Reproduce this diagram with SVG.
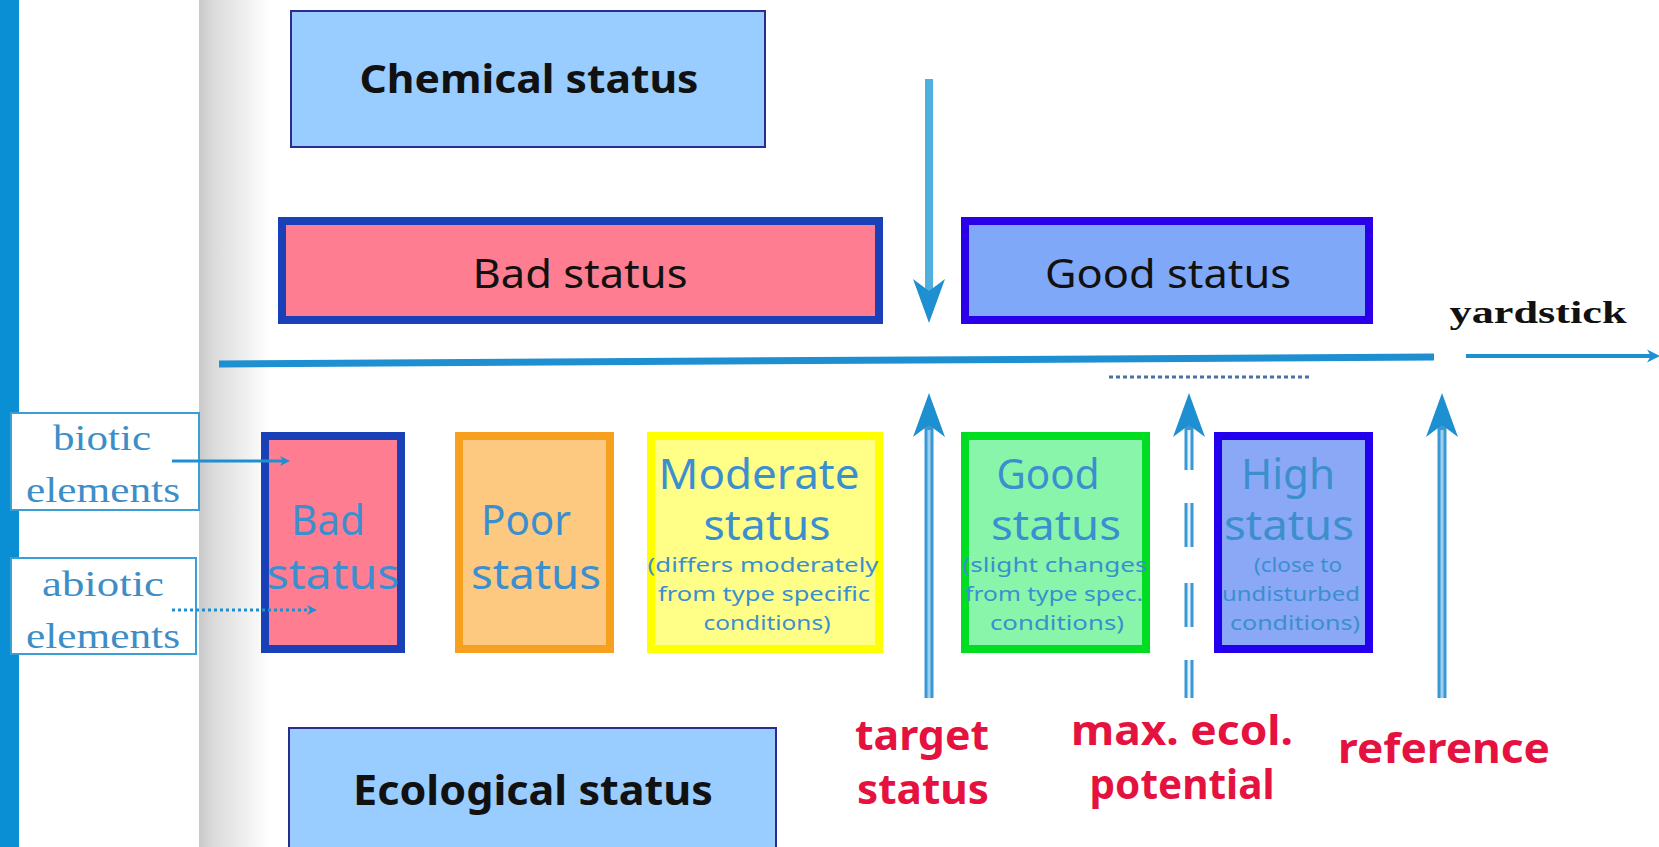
<svg xmlns="http://www.w3.org/2000/svg" xmlns:xlink="http://www.w3.org/1999/xlink" width="1659" height="847" viewBox="0 0 1659 847">
  <defs>
    <linearGradient id="shade" x1="0" y1="0" x2="1" y2="0">
      <stop offset="0" stop-color="#c9c9c9"/>
      <stop offset="0.2" stop-color="#dadada"/>
      <stop offset="1" stop-color="#ffffff"/>
    </linearGradient>
    <path id="headUp" d="M0,0 L16,44 L0,32 L-16,44 Z" fill="#1e8fd0"/>
    <path id="headSmall" d="M0,0 L-10,-5 L-7,0 L-10,5 Z" fill="#1e8fd0"/>
    <style>
      .big { font-family: "Comic Sans MS", "Noto Sans", sans-serif; fill: #111; text-anchor: middle; }
      .lbl { font-family: "Comic Sans MS", "Noto Sans", sans-serif; fill: #3b8fcf; text-anchor: middle; font-size: 41px; }
      .sml { font-family: "Comic Sans MS", "Noto Sans", sans-serif; fill: #3b8fcf; text-anchor: middle; font-size: 20px; }
      .red { font-family: "Comic Sans MS", "Noto Sans", sans-serif; fill: #e5123f; text-anchor: middle; font-size: 42px; font-weight: bold; }
      .ser { font-family: "Liberation Serif", serif; fill: #3d8ec6; text-anchor: middle; font-size: 36px; }
      .elem { fill: #ffffff; stroke: #3a9fd4; stroke-width: 2; }
      .blue { fill: #99ccff; stroke: #2b2b90; stroke-width: 2; }
    </style>
  </defs>

  <!-- background -->
  <rect x="0" y="0" width="1659" height="847" fill="#ffffff"/>
  <rect x="0" y="0" width="19" height="847" fill="#0a8fd5"/>
  <rect x="199" y="0" width="70" height="847" fill="url(#shade)"/>

  <g id="chemical-status">
    <rect class="blue" x="291" y="11" width="474" height="136"/>
    <text class="big" x="529" y="93" font-size="40" font-weight="bold" textLength="339" lengthAdjust="spacingAndGlyphs">Chemical status</text>
  </g>

  <g id="bad-status-top">
    <rect x="282" y="221" width="597" height="99" fill="#ff7d90" stroke="#1a40b8" stroke-width="8"/>
    <text class="big" x="580" y="288" font-size="40" textLength="215" lengthAdjust="spacingAndGlyphs">Bad status</text>
  </g>

  <g id="good-status-top">
    <rect x="965" y="221" width="404" height="99" fill="#80a8f8" stroke="#2a00e8" stroke-width="8"/>
    <text class="big" x="1168" y="288" font-size="40" textLength="246" lengthAdjust="spacingAndGlyphs">Good status</text>
  </g>

  <g id="yardstick-label">
    <text x="1538" y="323" font-family="Liberation Serif, serif" font-weight="bold" font-size="32" fill="#111" text-anchor="middle" textLength="177" lengthAdjust="spacingAndGlyphs">yardstick</text>
  </g>

  <g id="biotic-elements">
    <rect class="elem" x="11" y="413" width="188" height="97"/>
    <text class="ser" x="102" y="450" textLength="98" lengthAdjust="spacingAndGlyphs">biotic</text>
    <text class="ser" x="103" y="502" textLength="154" lengthAdjust="spacingAndGlyphs">elements</text>
  </g>

  <g id="abiotic-elements">
    <rect class="elem" x="11" y="558" width="185" height="96"/>
    <text class="ser" x="103" y="596" textLength="122" lengthAdjust="spacingAndGlyphs">abiotic</text>
    <text class="ser" x="103" y="648" textLength="154" lengthAdjust="spacingAndGlyphs">elements</text>
  </g>

  <g id="bad-status">
    <rect x="265" y="436" width="136" height="213" fill="#ff7d90" stroke="#1a40b8" stroke-width="8"/>
    <text class="lbl" x="328" y="535" textLength="74" lengthAdjust="spacingAndGlyphs">Bad</text>
    <text class="lbl" x="333" y="589" textLength="133" lengthAdjust="spacingAndGlyphs">status</text>
  </g>

  <g id="poor-status">
    <rect x="459" y="436" width="151" height="213" fill="#fdc880" stroke="#f7a020" stroke-width="8"/>
    <text class="lbl" x="526" y="535" textLength="90" lengthAdjust="spacingAndGlyphs">Poor</text>
    <text class="lbl" x="536" y="589" textLength="130" lengthAdjust="spacingAndGlyphs">status</text>
  </g>

  <g id="moderate-status">
    <rect x="651" y="436" width="228" height="213" fill="#ffff88" stroke="#ffff00" stroke-width="8"/>
    <text class="lbl" x="759" y="489" textLength="201" lengthAdjust="spacingAndGlyphs">Moderate</text>
    <text class="lbl" x="767" y="540" textLength="127" lengthAdjust="spacingAndGlyphs">status</text>
    <text class="sml" x="763" y="572" textLength="231" lengthAdjust="spacingAndGlyphs">(differs moderately</text>
    <text class="sml" x="764" y="601" textLength="212" lengthAdjust="spacingAndGlyphs">from type specific</text>
    <text class="sml" x="767" y="630" textLength="127" lengthAdjust="spacingAndGlyphs">conditions)</text>
  </g>

  <g id="good-status">
    <rect x="965" y="436" width="181" height="213" fill="#88f5aa" stroke="#00dd22" stroke-width="8"/>
    <text class="lbl" x="1048" y="489" textLength="103" lengthAdjust="spacingAndGlyphs">Good</text>
    <text class="lbl" x="1056" y="540" textLength="130" lengthAdjust="spacingAndGlyphs">status</text>
    <text class="sml" x="1055" y="572" textLength="185" lengthAdjust="spacingAndGlyphs">(slight changes</text>
    <text class="sml" x="1054" y="601" textLength="178" lengthAdjust="spacingAndGlyphs">from type spec.</text>
    <text class="sml" x="1057" y="630" textLength="134" lengthAdjust="spacingAndGlyphs">conditions)</text>
  </g>

  <g id="high-status">
    <rect x="1218" y="436" width="151" height="213" fill="#8aa8f5" stroke="#2200ee" stroke-width="8"/>
    <text class="lbl" x="1288" y="489" textLength="94" lengthAdjust="spacingAndGlyphs">High</text>
    <text class="lbl" x="1289" y="540" textLength="130" lengthAdjust="spacingAndGlyphs">status</text>
    <text class="sml" x="1298" y="572" textLength="88" lengthAdjust="spacingAndGlyphs">(close to</text>
    <text class="sml" x="1291" y="601" textLength="138" lengthAdjust="spacingAndGlyphs">undisturbed</text>
    <text class="sml" x="1295" y="630" textLength="130" lengthAdjust="spacingAndGlyphs">conditions)</text>
  </g>

  <g id="ecological-status">
    <rect class="blue" x="289" y="728" width="487" height="130"/>
    <text class="big" x="533" y="805" font-size="42" font-weight="bold" textLength="360" lengthAdjust="spacingAndGlyphs">Ecological status</text>
  </g>

  <g id="target-status">
    <text class="red" x="922" y="750" textLength="134" lengthAdjust="spacingAndGlyphs">target</text>
    <text class="red" x="923" y="804" textLength="132" lengthAdjust="spacingAndGlyphs">status</text>
  </g>

  <g id="max-ecol-potential">
    <text class="red" x="1182" y="745" textLength="222" lengthAdjust="spacingAndGlyphs">max. ecol.</text>
    <text class="red" x="1182" y="799" textLength="185" lengthAdjust="spacingAndGlyphs">potential</text>
  </g>

  <g id="reference">
    <text class="red" x="1444" y="763" textLength="212" lengthAdjust="spacingAndGlyphs">reference</text>
  </g>

  <g id="connectors">
    <!-- yardstick axis -->
    <line x1="219" y1="364" x2="1434" y2="357" stroke="#1e8fd0" stroke-width="7"/>
    <line x1="1466" y1="356" x2="1652" y2="356" stroke="#1e8fd0" stroke-width="4"/>
    <use xlink:href="#headSmall" transform="translate(1660,356) scale(1.3)"/>
    <!-- dotted range under axis -->
    <line x1="1109" y1="377" x2="1312" y2="377" stroke="#4a70a8" stroke-width="3" stroke-dasharray="4 3"/>

    <!-- chemical down arrow -->
    <line x1="929" y1="79" x2="929" y2="300" stroke="#4fb0de" stroke-width="8"/>
    <use xlink:href="#headUp" transform="translate(929,323) rotate(180)"/>

    <!-- target up arrow -->
    <line x1="929" y1="420" x2="929" y2="698" stroke="#3a98d4" stroke-width="9"/>
    <line x1="929" y1="430" x2="929" y2="698" stroke="#9dd0ee" stroke-width="3"/>
    <use xlink:href="#headUp" x="929" y="393"/>

    <!-- max ecol potential arrow (dashed double line) -->
    <path d="M1189,420 V470 M1189,503 V547 M1189,583 V627 M1189,660 V698" stroke="#3a98d4" stroke-width="9" fill="none"/>
    <path d="M1189,430 V470 M1189,503 V547 M1189,583 V627 M1189,660 V698" stroke="#e6f3fb" stroke-width="3" fill="none"/>
    <use xlink:href="#headUp" x="1189" y="393"/>

    <!-- reference arrow -->
    <line x1="1442" y1="420" x2="1442" y2="698" stroke="#3a98d4" stroke-width="9"/>
    <line x1="1442" y1="430" x2="1442" y2="698" stroke="#9dd0ee" stroke-width="3"/>
    <use xlink:href="#headUp" x="1442" y="393"/>

    <!-- biotic arrow -->
    <line x1="172" y1="461" x2="284" y2="461" stroke="#1e8fd0" stroke-width="3"/>
    <use xlink:href="#headSmall" transform="translate(290,461)"/>
    <!-- abiotic dotted arrow -->
    <line x1="172" y1="610" x2="310" y2="610" stroke="#1e8fd0" stroke-width="3" stroke-dasharray="3 3"/>
    <use xlink:href="#headSmall" transform="translate(317,610)"/>
  </g>
</svg>
